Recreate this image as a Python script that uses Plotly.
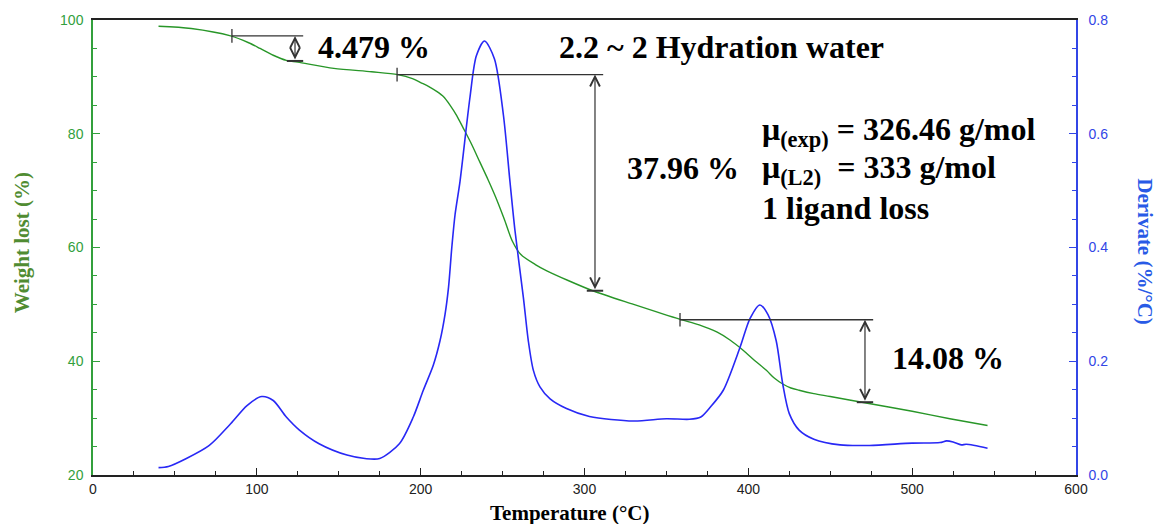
import plotly.graph_objects as go

# ---- TGA (weight %) ----
tga_T = [40, 60, 84, 95, 102, 110, 118, 125, 147, 170, 186, 195, 200, 205, 210, 214, 218,
         222, 226, 231, 236, 241, 246, 251, 256, 261, 270, 277, 290, 305, 330, 358, 370,
         381, 389, 397, 404, 411, 416, 421, 426, 431, 440, 450, 471, 500, 523, 546]
tga_W = [98.9, 98.5, 97.2, 96.0, 95.0, 93.8, 92.9, 92.6, 91.5, 90.9, 90.4, 89.7, 89.0,
         88.3, 87.4, 86.5, 85.0, 83.2, 81.0, 78.2, 75.1, 72.0, 68.7, 65.0, 61.1, 58.8,
         57.0, 55.9, 54.2, 52.4, 50.0, 47.4, 46.4, 45.1, 43.7, 41.9, 40.1, 38.4, 37.0,
         36.0, 35.3, 34.9, 34.3, 33.8, 32.7, 31.2, 29.9, 28.7]

# ---- DTG (derivative %/°C) ----
dtg_T = [40, 46, 57, 71, 84, 94, 103, 110, 118, 126, 138, 155, 166, 175, 187, 195.5,
         201.6, 207.7, 211.8, 214.9, 217, 219, 221, 224, 230, 234, 239, 245, 250.5, 254.5,
         257.6, 262.7, 265.7, 268.8, 272.8, 279, 289, 303, 330, 350, 364, 371, 377, 384.7,
         395, 401, 407, 412, 417, 421, 425, 431, 440, 456, 474, 500, 517, 521, 525, 530,
         533, 546]
dtg_D = [0.013, 0.015, 0.029, 0.052, 0.090, 0.122, 0.138, 0.131, 0.102, 0.079, 0.055,
         0.035, 0.029, 0.029, 0.055, 0.102, 0.149, 0.193, 0.236, 0.283, 0.330, 0.400,
         0.458, 0.516, 0.662, 0.737, 0.763, 0.732, 0.633, 0.516, 0.429, 0.312, 0.236,
         0.184, 0.155, 0.134, 0.117, 0.103, 0.095, 0.099, 0.098, 0.102, 0.120, 0.149,
         0.225, 0.275, 0.299, 0.282, 0.236, 0.160, 0.108, 0.079, 0.063, 0.053, 0.052,
         0.056, 0.057, 0.060, 0.058, 0.053, 0.054, 0.047]

# ---- step measurements ----
step_start = [84.8, 185.6, 358.3]
step_arrow = [123.3, 306.4, 471.2]
step_top = [97.2, 90.4, 47.3]
step_bottom = [92.8, 52.4, 32.8]
step_labels = ["4.479 %", "37.96 %", "14.08 %"]

GREEN = "rgb(40,150,40)"
BLUE = "rgb(40,40,245)"
DARK = "#333333"
SERIF = "Liberation Serif"

fig = go.Figure()
fig.add_trace(go.Scatter(x=tga_T, y=tga_W, mode="lines",
                         line=dict(color=GREEN, width=1.4, shape="spline", smoothing=0.8), yaxis="y"))
fig.add_trace(go.Scatter(x=dtg_T, y=dtg_D, mode="lines",
                         line=dict(color=BLUE, width=1.6, shape="spline", smoothing=0.8), yaxis="y2"))

shapes = []
annotations = []
for s, a, top, bot in zip(step_start, step_arrow, step_top, step_bottom):
    end = a + 5
    shapes.append(dict(type="line", xref="x", yref="y", x0=s, x1=end, y0=top, y1=top,
                       line=dict(color=DARK, width=1.3)))
    shapes.append(dict(type="line", xref="x", yref="y", x0=s, x1=s, y0=top - 1.2, y1=top + 1.2,
                       line=dict(color=DARK, width=1.3)))
    shapes.append(dict(type="line", xref="x", yref="y", x0=a - 5, x1=end, y0=bot, y1=bot,
                       line=dict(color=DARK, width=2)))
    annotations.append(dict(x=a, y=top, ax=a, ay=bot, xref="x", yref="y", axref="x", ayref="y", text="",
                            showarrow=True, arrowhead=5, startarrowhead=5, arrowside="end+start",
                            arrowsize=1.6, startarrowsize=1.6, arrowwidth=1.2, arrowcolor=DARK,
                            standoff=0, startstandoff=0))

big = dict(family=SERIF, size=32, color="black", weight="bold")


def txt(x, y, t):
    return dict(x=x, y=y, xref="x", yref="y", text=t, showarrow=False,
                xanchor="left", yanchor="middle", font=big)


annotations += [
    txt(136, 95.2, step_labels[0]),
    txt(324.5, 74.0, step_labels[1]),
    txt(486.5, 40.6, step_labels[2]),
    txt(283, 95.2, "2.2 ~ 2 Hydration water"),
    txt(407, 80.4, "μ<sub>(exp)</sub> = 326.46 g/mol"),
    txt(407, 73.7, "μ<sub>(L2)</sub>&nbsp;&nbsp;= 333 g/mol"),
    txt(407, 66.9, "1 ligand loss"),
]

# axis titles
annotations.append(dict(x=-0.072, y=0.51, xref="paper", yref="paper", text="Weight lost (%)", textangle=-90,
                        showarrow=False, xanchor="center", yanchor="middle",
                        font=dict(family=SERIF, size=21, color="rgb(80,140,50)", weight="bold")))
annotations.append(dict(x=1.07, y=0.49, xref="paper", yref="paper", text="Derivate (%/°C)", textangle=90,
                        showarrow=False, xanchor="center", yanchor="middle",
                        font=dict(family=SERIF, size=21, color="rgb(40,90,230)", weight="bold")))
annotations.append(dict(x=0.485, y=-0.083, xref="paper", yref="paper", text="Temperature (°C)",
                        showarrow=False, xanchor="center", yanchor="middle",
                        font=dict(family=SERIF, size=21, color="black", weight="bold")))

fig.update_layout(
    width=1158, height=524,
    margin=dict(l=93, r=82, t=18, b=49),
    plot_bgcolor="white", paper_bgcolor="white",
    showlegend=False,
    font=dict(family="Liberation Sans", size=14),
    xaxis=dict(range=[0, 600], dtick=100, showgrid=False, zeroline=False, showline=True, linecolor="#222",
               linewidth=1.5, mirror=True, ticks="inside", ticklen=7, tickcolor="#222",
               tickfont=dict(color="#222", size=14),
               minor=dict(dtick=25, ticks="inside", ticklen=4, tickcolor="#222")),
    yaxis=dict(range=[20, 100], dtick=20, showgrid=False, zeroline=False, showline=True,
               linecolor="rgb(50,160,60)", linewidth=1.5, ticks="inside", ticklen=7,
               tickcolor="rgb(50,160,60)", tickfont=dict(color="rgb(50,160,60)", size=14),
               ticklabelstandoff=5,
               minor=dict(dtick=5, ticks="inside", ticklen=4, tickcolor="rgb(50,160,60)")),
    yaxis2=dict(range=[0, 0.8], dtick=0.2, tickformat=".1f", overlaying="y", side="right", showgrid=False,
                zeroline=False, showline=True, linecolor="rgb(50,70,230)", linewidth=1.5, ticks="inside",
                ticklen=7, tickcolor="rgb(50,70,230)", tickfont=dict(color="rgb(50,70,230)", size=14),
                ticklabelstandoff=8,
                minor=dict(dtick=0.05, ticks="inside", ticklen=4, tickcolor="rgb(50,70,230)")),
    shapes=shapes,
    annotations=annotations,
)

fig.write_html("out.html")
